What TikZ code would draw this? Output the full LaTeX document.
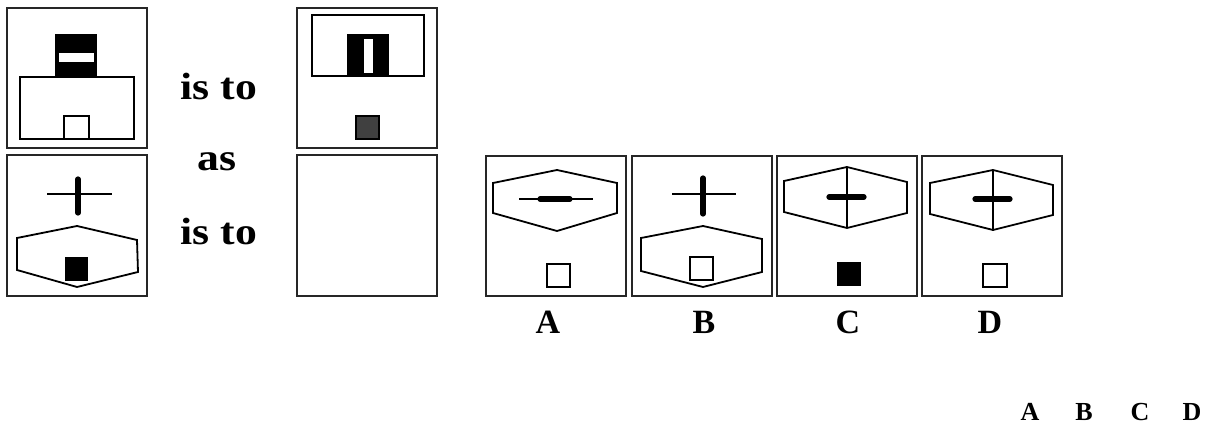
\documentclass[tikz,border=0pt]{standalone}
\usepackage{fontspec}
\setmainfont{Liberation Serif}
\begin{document}
\begin{tikzpicture}[x=0.5pt,y=-0.5pt,
 panel/.style={draw=black!85,line width=1pt},
 outl/.style={draw=black,line width=0.9pt},
 thinline/.style={draw=black,line width=0.7pt},
 bar/.style={draw=black,line width=2.6pt,line cap=round},
 word/.style={font=\fontsize{19}{22}\selectfont\bfseries,inner sep=0pt,xscale=1.15},
 lab/.style={font=\fontsize{17}{20}\selectfont\bfseries,inner sep=0pt},
 smalllab/.style={font=\fontsize{13}{16}\selectfont\bfseries,inner sep=0pt}]
\useasboundingbox (0,0) rectangle (1207,433);
\fill[white] (0,0) rectangle (1207,433);
% panel 1
\draw[panel] (7,8) rectangle (147,148);
\fill (55,34) rectangle (97,78);
\fill[white] (59,53) rectangle (94,62);
\draw[outl] (20,77) rectangle (134,139);
\draw[outl] (64,116) rectangle (89,139);
% panel 2
\draw[panel] (7,155) rectangle (147,296);
\draw[thinline] (47,194) -- (112,194);
\draw[bar] (78,179) -- (78,213);
\draw[outl] (17,238) -- (77,226) -- (137,240) -- (138,272) -- (77,287) -- (17,270) -- cycle;
\fill (65,257) rectangle (88,281);
% panel 3
\draw[panel] (297,8) rectangle (437,148);
\draw[outl] (312,15) rectangle (424,76);
\fill (347,34) rectangle (389,76);
\fill[white] (364,39) rectangle (373,73);
\filldraw[fill=black!75,draw=black,line width=0.7pt] (356,116) rectangle (379,139);
% panel 4
\draw[panel] (297,155) rectangle (437,296);
% option A
\draw[panel] (486,156) rectangle (626,296);
\draw[outl] (493,183) -- (557,170) -- (617,183) -- (617,213) -- (557,231) -- (493,213) -- cycle;
\draw[thinline] (519,199) -- (593,199);
\draw[bar] (540,199) -- (570,199);
\draw[outl] (547,264) rectangle (570,287);
% option B
\draw[panel] (632,156) rectangle (772,296);
\draw[thinline] (672,194) -- (736,194);
\draw[bar] (703,178) -- (703,214);
\draw[outl] (641,238) -- (703,226) -- (762,239) -- (762,272) -- (703,287) -- (641,271) -- cycle;
\draw[outl] (690,257) rectangle (713,280);
% option C
\draw[panel] (777,156) rectangle (917,296);
\draw[outl] (784,181) -- (847,167) -- (907,182) -- (907,213) -- (847,228) -- (784,212) -- cycle;
\draw[thinline] (847,167) -- (847,228);
\draw[bar] (829,197) -- (864,197);
\fill (837,262) rectangle (861,286);
% option D
\draw[panel] (922,156) rectangle (1062,296);
\draw[outl] (930,183) -- (993,170) -- (1053,185) -- (1053,215) -- (993,230) -- (930,214) -- cycle;
\draw[thinline] (993,171) -- (993,231);
\draw[bar] (975,199) -- (1010,199);
\draw[outl] (983,264) rectangle (1007,287);
% texts
\node[word] (t1) at (219,87) {is to};
\node[word] (t2) at (217,162) {as};
\node[word] (t3) at (219,232) {is to};
\node[lab] (la) at (548,322) {A};
\node[lab] (lb) at (704,322) {B};
\node[lab] (lc) at (848,322) {C};
\node[lab] (ld) at (990,322) {D};
\node[smalllab] (sa) at (1030,412) {A};
\node[smalllab] (sb) at (1084,412) {B};
\node[smalllab] (sc) at (1140,412) {C};
\node[smalllab] (sd) at (1192,412) {D};
\end{tikzpicture}
\end{document}
